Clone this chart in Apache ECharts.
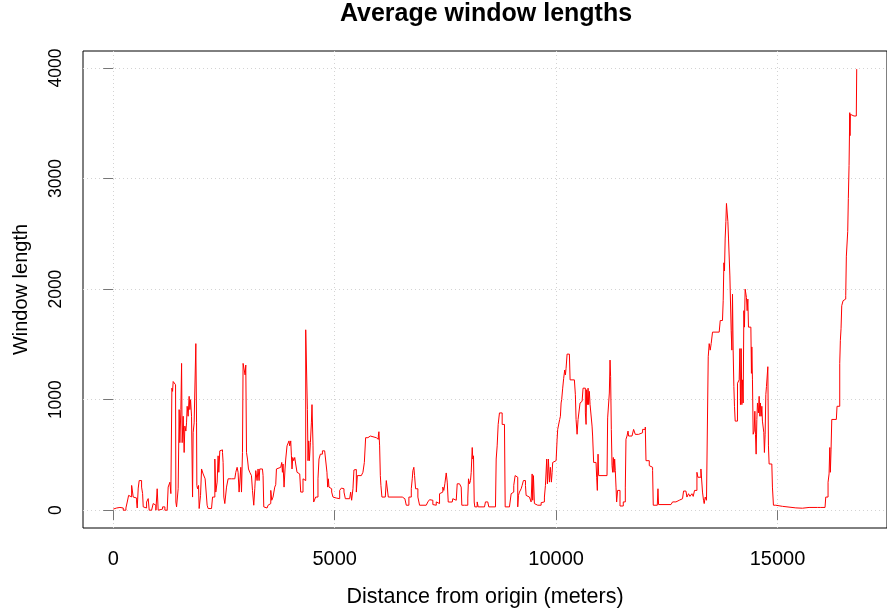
<!DOCTYPE html>
<html>
<head>
<meta charset="utf-8">
<script src="https://cdn.jsdelivr.net/npm/echarts@6/dist/echarts.min.js"></script>
<style>html,body{margin:0;padding:0;background:#fff;}#c{width:887px;height:613px;}</style>
</head>
<body>
<div id="c"></div>
<script>
const distance = [0,38,77,113,151,189,226,286,316,347,377,415,451,489,528,541,564,586,618,640,663,677,715,753,789,812,866,902,940,963,992,1015,1053,1114,1166,1218,1240,1279,1301,1324,1340,1353,1392,1407,1414,1430,1466,1488,1504,1527,1543,1556,1579,1601,1617,1640,1655,1669,1691,1714,1730,1746,1768,1791,1804,1827,1849,1865,1881,1888,1903,1926,1940,1971,1994,2016,2030,2061,2075,2106,2120,2143,2219,2242,2271,2294,2316,2346,2368,2384,2406,2445,2467,2481,2497,2519,2558,2594,2670,2745,2767,2797,2819,2842,2857,2880,2896,2918,2932,2954,2977,2993,3009,3031,3054,
3083,3121,3144,3173,3196,3218,3248,3270,3293,3308,3347,3369,3383,3399,3421,3473,3496,3534,3557,3579,3608,3647,3669,3685,3721,3782,3805,3820,3834,3857,3879,3895,3924,3947,3969,3985,4008,4023,4037,4053,4075,4098,4120,4150,4181,4211,4233,4256,4285,4308,4330,4346,4368,4384,4398,4414,4429,4452,4474,4488,4511,4526,4549,4571,4601,4623,4646,4677,4723,4774,4813,4826,4842,4858,4871,4903,4932,4962,5000,5038,5074,5113,5151,5187,5210,5241,5338,5361,5383,5413,5435,5458,5489,5512,5602,5638,5670,5699,5751,5805,5940,5963,5986,5999,6015,6031,6044,6067,6143,6166,6195,6211,6527,6556,6585,6617,6653,6676,
6691,6730,6752,6766,6788,6804,6827,6856,6879,6917,7068,7104,7142,7181,7217,7255,7294,7330,7368,7406,7442,7465,7488,7519,7542,7564,7654,7668,7706,7745,7767,7819,7857,7871,7932,7970,8006,8022,8045,8067,8083,8106,8119,8135,8151,8164,8196,8218,8241,8383,8405,8457,8480,8631,8647,8669,8692,8721,8766,8782,8834,8850,8947,8985,9021,9044,9075,9111,9134,9150,9172,9211,9233,9262,9285,9308,9323,9359,9398,9436,9459,9472,9488,9510,9549,9585,9623,9662,
9698,9736,9759,9788,9804,9826,9849,9871,9894,9910,9923,9962,10000,10023,10036,10059,10081,10097,10113,10126,10149,10171,10194,10210,10225,10248,10300,10316,10413,10435,10451,10474,10496,10525,10541,10564,10587,10609,10638,10661,10677,10690,10706,10722,10735,10751,10767,10789,10812,10825,10848,10902,10916,10931,10947,10961,11150,11164,11186,11202,11218,11231,11247,11263,11277,11292,11308,11322,11337,11353,11367,11389,11427,11443,11488,11517,11547,11563,11578,11601,11624,11637,11714,11750,11788,11863,11953,12014,12030,12104,12143,12179,12194,12285,12300,12314,12594,12630,12706,12781,12855,12878,12932,12954,12991,13022,13067,13096,13126,13157,13180,13202,
13270,13293,13306,13329,13344,13367,13396,13419,13435,13457,13480,13502,13532,13683,13706,13757,13773,13789,13802,13818,13834,13847,13863,13879,13893,13908,13924,13938,13953,13969,13983,13998,14014,14028,14044,14073,14096,14118,14134,14150,14163,14179,14195,14208,14224,14240,14253,14269,14285,14298,14314,14330,14344,14398,14411,14420,14434,14450,14472,14488,14502,14517,14533,14547,14569,14585,14601,14614,14630,14646,14659,14675,14691,14704,14720,14736,14750,14765,14781,14795,14810,14871,14885,14908,14961,15111,15413,
15449,15562,15712,15900,15977,16013,16073,16089,16125,16141,16164,16180,16193,16209,16225,16276,16328,16344,16389,16405,16419,16434,16450,16480,16524,16540,16554,16576,16585,16599,16615,16631,16637,16644,16660,16727,16779,16788];

const windowLength = [10,20,10,25,15,20,0,20,74,134,120,224,119,110,74,20,200,268,268,209,150,30,20,74,105,0,0,60,45,0,194,0,10,30,0,5,209,253,150,1104,1075,1164,1150,1135,74,30,194,910,611,910,1328,611,850,522,761,716,790,940,850,1030,910,1000,850,119,701,790,806,1507,790,224,194,224,15,134,373,388,328,343,284,298,45,15,15,119,119,463,164,254,492,343,537,546,522,432,119,60,209,284,284,298,343,388,343,164,149,388,164,522,1328,1313,1224,1313,522,463,373,
343,313,179,45,194,358,268,373,268,373,373,388,313,30,20,20,45,60,179,90,119,209,231,373,388,403,432,343,418,209,373,463,582,582,627,582,627,492,373,477,448,477,418,343,328,313,164,164,284,298,268,1632,1632,910,448,627,448,612,790,955,582,74,60,119,119,284,463,507,537,546,522,343,209,284,209,194,164,119,110,125,104,179,200,194,164,104,98,164,90,194,364,368,164,313,313,343,432,656,671,656,665,641,671,710,582,313,224,119,119,268,268,119,119,104,110,45,45,119,
119,194,284,358,388,313,194,194,119,45,51,75,95,90,51,45,75,60,149,164,209,179,239,337,254,74,60,104,90,75,239,230,209,45,30,45,110,284,239,268,343,567,463,492,74,30,30,75,30,30,75,75,30,30,463,582,776,880,880,776,776,30,45,149,164,224,313,298,30,134,164,194,224,268,268,224,134,119,104,75,328,90,313,60,45,30,45,68,
75,119,224,463,239,463,254,388,254,343,432,448,463,642,731,716,821,850,970,1000,1104,1193,1268,1224,1283,1412,1412,1179,1170,1045,821,687,821,821,970,985,970,1104,1104,880,776,1090,955,1104,955,1075,955,955,761,671,432,432,298,179,507,313,313,835,850,1060,1358,1209,731,403,343,477,343,463,358,209,74,179,179,38,38,75,75,209,642,671,716,671,686,731,686,701,731,752,448,403,388,358,45,51,194,51,51,75,90,104,110,173,173,119,149,125,149,125,179,179,343,298,
373,388,164,90,60,119,90,104,1388,1507,1448,1507,1611,1627,1716,1722,1895,2238,2164,2462,2611,2775,2775,2611,2462,2462,2119,2119,1627,1448,1954,1448,1119,940,806,806,1149,1149,1179,1462,955,1462,955,1179,970,1805,1656,2000,2000,1925,1805,1910,1656,1656,1238,1477,1179,687,716,895,687,507,821,970,880,1030,850,970,850,940,806,791,701,522,687,1045,1119,1119,1298,582,418,403,209,45,35,21,21,
18,25,25,25,35,25,25,119,119,253,328,567,343,552,821,821,836,940,940,1328,1537,1641,1850,1895,1910,1940,2298,2313,2522,2820,3118,3596,3388,3581,3566,3566,3581,3990];

const xTicks = [0, 5000, 10000, 15000];
const yTicks = [0, 1000, 2000, 3000, 4000];

const seriesData = distance.map((d, i) => [d, windowLength[i]]);

const chart = echarts.init(document.getElementById('c'), null, {renderer: 'canvas'});
const font = 'Liberation Sans, Arial, Helvetica, sans-serif';
const gridLine = {show: true, lineStyle: {color: '#d3d3d3', width: 1, type: [1, 3]}};
const plain = v => String(v);
chart.setOption({
  animation: false,
  backgroundColor: '#ffffff',
  title: {
    text: 'Average window lengths',
    left: 486, top: 2, padding: 0, textAlign: 'center',
    textStyle: {fontFamily: font, fontWeight: 'bold', fontSize: 25, color: '#000'}
  },
  grid: {left: 83, right: -1, top: 51, bottom: 80, show: true, borderColor: '#000', borderWidth: 1, containLabel: false},
  xAxis: {
    type: 'value', min: -683, max: 17472,
    name: 'Distance from origin (meters)', nameLocation: 'middle', nameGap: 58,
    nameTextStyle: {fontFamily: font, fontSize: 21.5, color: '#000'},
    axisLine: {show: false},
    axisTick: {show: true, length: 10, customValues: xTicks, lineStyle: {color: '#777'}},
    axisLabel: {customValues: xTicks, formatter: plain, margin: 21, fontFamily: font, fontSize: 20, color: '#000'},
    splitLine: gridLine
  },
  yAxis: {
    type: 'value', min: -161, max: 4154,
    name: 'Window length', nameLocation: 'middle', nameGap: 52, nameRotate: 90,
    nameTextStyle: {fontFamily: font, fontSize: 20, color: '#000'},
    axisLine: {show: false},
    axisTick: {show: true, length: 10, customValues: yTicks, lineStyle: {color: '#777'}},
    axisLabel: {customValues: yTicks, formatter: plain, rotate: 90, margin: 18, fontFamily: font, fontSize: 17.5, color: '#000'},
    splitLine: gridLine
  },
  series: [{
    type: 'line', step: 'end', data: seriesData, showSymbol: false, symbol: 'none',
    lineStyle: {color: '#ff0000', width: 1}, clip: true
  }]
});
</script>
</body>
</html>
